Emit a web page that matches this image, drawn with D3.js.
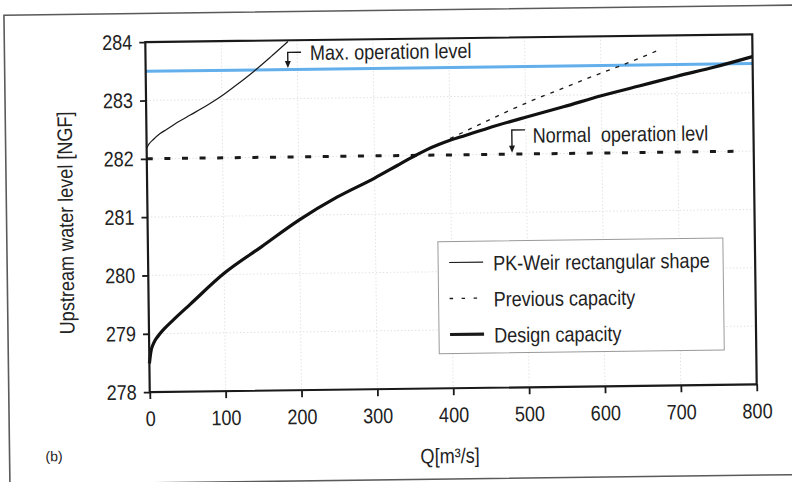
<!DOCTYPE html>
<html>
<head>
<meta charset="utf-8">
<script src="https://cdn.jsdelivr.net/npm/d3@7"></script>
<style>
  html, body { margin: 0; padding: 0; background: #ffffff; }
  svg { display: block; }
  text { font-family: "Liberation Sans Narrow", "Arial Narrow", "Liberation Sans", Arial, sans-serif; fill: #222; }
</style>
</head>
<body>
<svg id="chart" width="792" height="482"></svg>
<script>
// ---------- data ----------
const qTicks = [0, 100, 200, 300, 400, 500, 600, 700, 800];
const levelTicks = [278, 279, 280, 281, 282, 283, 284];

// PK-Weir rectangular shape (thin solid)
const pkWeirQ     = [0, 3, 9, 18, 27, 40, 58, 80, 102, 122, 142, 165, 188];
const pkWeirLevel = [282.18, 282.25, 282.33, 282.43, 282.5, 282.61, 282.74, 282.9, 283.08, 283.27, 283.47, 283.72, 283.98];

// Design capacity (thick solid)
const designQ     = [0, 2, 6, 12, 20, 32, 55, 100, 150, 200, 250, 300, 330, 350, 370, 385, 400, 420, 450, 500, 550, 600, 650, 700, 750, 800];
const designLevel = [278.49, 278.68, 278.84, 278.96, 279.08, 279.23, 279.5, 280.02, 280.47, 280.92, 281.3, 281.62, 281.83, 281.97, 282.1, 282.18, 282.25, 282.33, 282.45, 282.63, 282.8, 282.98, 283.14, 283.3, 283.45, 283.62];

// Previous capacity (thin dashed, where it departs from the design curve)
const previousQ     = [400, 450, 506, 550, 594, 640, 678];
const previousLevel = [282.28, 282.58, 282.9, 283.12, 283.34, 283.56, 283.76];

// Reference levels
const maxOperationLevel = 283.5;
const normalOperationLevel = 282;
const levelLineQ = [0, 800];
const normalLineQ = [0, 786];

const legendLabels = ["PK-Weir rectangular shape", "Previous capacity", "Design capacity"];
const maxLabel = "Max. operation level";
const normalLabel = "Normal  operation levl";
const yTitle = "Upstream water level [NGF]";
const xTitle = "Q[m³/s]";
const panelLabel = "(b)";

// ---------- layout ----------
const NARROW = 0.86;   // horizontal compression to imitate a narrow typeface
const svg = d3.select("#chart");
const root = svg.append("g").attr("transform", "rotate(-0.73, 451, 213)");

const x = d3.scaleLinear().domain([0, 800]).range([147.5, 754.5]);
const y = d3.scaleLinear().domain([278, 284]).range([388.25, 38.25]);

// outer frame
root.append("rect")
  .attr("x", 6.5).attr("y", 9.5).attr("width", 820).attr("height", 469.5)
  .attr("fill", "none").attr("stroke", "#5a5a5a").attr("stroke-width", 1.6);

// faint grid
const grid = root.append("g").attr("stroke", "#e2e2e2").attr("stroke-width", 1).attr("stroke-dasharray", "1.5,2");
grid.selectAll("line.v").data(qTicks.slice(1, -1)).join("line")
  .attr("x1", d => x(d)).attr("x2", d => x(d)).attr("y1", y(284)).attr("y2", y(278));
grid.selectAll("line.h").data(levelTicks.slice(1, -1)).join("line")
  .attr("x1", x(0)).attr("x2", x(800)).attr("y1", d => y(d)).attr("y2", d => y(d));

// max operation level (blue)
const line = d3.line().x(d => x(d[0])).y(d => y(d[1]));
root.append("path")
  .datum(levelLineQ.map(q => [q, maxOperationLevel]))
  .attr("d", line).attr("fill", "none").attr("stroke", "#62afec").attr("stroke-width", 3);

// normal operation level (thick dashed)
root.append("path")
  .datum(normalLineQ.map(q => [q, normalOperationLevel]))
  .attr("d", line).attr("fill", "none").attr("stroke", "#1a1a1a")
  .attr("stroke-width", 3).attr("stroke-dasharray", "6,11.6");

// curves
const curve = d3.line().x(d => x(d[0])).y(d => y(d[1])).curve(d3.curveMonotoneX);

root.append("path")
  .datum(previousQ.map((q, i) => [q, previousLevel[i]]))
  .attr("d", curve).attr("fill", "none").attr("stroke", "#1a1a1a")
  .attr("stroke-width", 1.3).attr("stroke-dasharray", "4,6");

root.append("path")
  .datum(pkWeirQ.map((q, i) => [q, pkWeirLevel[i]]))
  .attr("d", curve).attr("fill", "none").attr("stroke", "#1a1a1a").attr("stroke-width", 1.2);

root.append("path")
  .datum(designQ.map((q, i) => [q, designLevel[i]]))
  .attr("d", curve).attr("fill", "none").attr("stroke", "#111").attr("stroke-width", 3.2)
  .attr("stroke-linejoin", "round");

// plot box
root.append("rect")
  .attr("x", x(0)).attr("y", y(284)).attr("width", x(800) - x(0)).attr("height", y(278) - y(284))
  .attr("fill", "none").attr("stroke", "#1a1a1a").attr("stroke-width", 2.2);

// axes
const yAxis = root.append("g").attr("transform", `translate(${x(0)},0)`)
  .call(d3.axisLeft(y).tickValues(levelTicks).tickFormat(d3.format("d")).tickSize(6).tickSizeOuter(0).tickPadding(7));
const xAxis = root.append("g").attr("transform", `translate(0,${y(278)})`)
  .call(d3.axisBottom(x).tickValues(qTicks).tickFormat(d3.format("d")).tickSize(7).tickSizeOuter(0).tickPadding(12));
[yAxis, xAxis].forEach(a => {
  a.select(".domain").remove();
  a.selectAll(".tick line").attr("stroke", "#1a1a1a").attr("stroke-width", 1.8);
  a.selectAll(".tick text").attr("font-size", 21).attr("fill", "#222").classed("narrow", true)
    .attr("font-family", '"Liberation Sans Narrow", "Arial Narrow", "Liberation Sans", sans-serif');
});

// axis titles
root.append("text").classed("narrow", true)
  .attr("transform", "translate(73,218) rotate(-90)")
  .attr("text-anchor", "middle").attr("font-size", 21).text(yTitle);

root.append("text").classed("narrow", true)
  .attr("x", 447).attr("y", 463).attr("text-anchor", "middle").attr("font-size", 21).text(xTitle);

root.append("text").attr("x", 51).attr("y", 456).attr("text-anchor", "middle")
  .attr("font-size", 14).attr("fill", "#444")
  .style("font-family", '"Liberation Sans", Arial, sans-serif').text(panelLabel);

// annotations
function bracket(level, cx, cy, hx) {
  const g = root.append("g").attr("stroke", "#1a1a1a").attr("stroke-width", 1.4).attr("fill", "none");
  const tipY = y(level) - 1.5;
  g.append("path").attr("d", `M${hx},${cy} H${cx} V${tipY - 6}`);
  root.append("path")
    .attr("d", `M${cx - 3},${tipY - 7} L${cx + 3},${tipY - 7} L${cx},${tipY} Z`)
    .attr("fill", "#1a1a1a");
}
bracket(maxOperationLevel, x(187.5), 50.3, x(205));
root.append("text").classed("narrow", true)
  .attr("x", 312).attr("y", 58.2).attr("font-size", 21).text(maxLabel);

bracket(normalOperationLevel, x(481.5), 130.8, x(499));
root.append("text").classed("narrow", true)
  .attr("x", 533.6).attr("y", 143.7).attr("font-size", 21)
  .style("white-space", "pre").text(normalLabel);

// legend
const lg = root.append("g");
lg.append("rect").attr("x", 437.5).attr("y", 241.5).attr("width", 285).attr("height", 112)
  .attr("fill", "#fff").attr("stroke", "#9a9a9a").attr("stroke-width", 1);
const legendStyles = [
  { w: 1.1, dash: null },
  { w: 1.3, dash: "3.5,8.5" },
  { w: 3.2, dash: null }
];
legendLabels.forEach((lab, i) => {
  const yy = 262.5 + i * 36;
  lg.append("line").attr("x1", 448.5).attr("x2", 482.5).attr("y1", yy).attr("y2", yy)
    .attr("stroke", "#1a1a1a").attr("stroke-width", legendStyles[i].w)
    .attr("stroke-dasharray", legendStyles[i].dash);
  lg.append("text").classed("narrow", true)
    .attr("x", 492.5).attr("y", yy + 8.5).attr("font-size", 21).text(lab);
});

// imitate the condensed typeface of the original figure
svg.selectAll("text.narrow").each(function () {
  const w = this.getComputedTextLength();
  if (w > 0) {
    d3.select(this).attr("textLength", (w * NARROW).toFixed(1)).attr("lengthAdjust", "spacingAndGlyphs");
  }
});
</script>
</body>
</html>
